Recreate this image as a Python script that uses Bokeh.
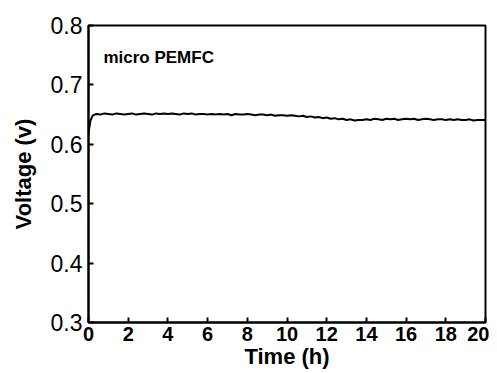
from bokeh.plotting import figure
from bokeh.models import Range1d, FixedTicker, Label
from bokeh.embed import file_html
from bokeh.resources import INLINE

hours = [0.0, 0.05, 0.1, 0.2, 0.3,
         0.4, 0.6, 0.8, 1.0, 1.2, 1.4, 1.6, 1.8, 2.0,
         2.2, 2.4, 2.6, 2.8, 3.0, 3.2, 3.4, 3.6, 3.8, 4.0,
         4.2, 4.4, 4.6, 4.8, 5.0, 5.2, 5.4, 5.6, 5.8, 6.0,
         6.2, 6.4, 6.6, 6.8, 7.0, 7.2, 7.4, 7.6, 7.8, 8.0,
         8.2, 8.4, 8.6, 8.8, 9.0, 9.2, 9.4, 9.6, 9.8, 10.0,
         10.2, 10.4, 10.6, 10.8, 11.0, 11.2, 11.4, 11.6, 11.8, 12.0,
         12.2, 12.4, 12.6, 12.8, 13.0, 13.2, 13.4, 13.6, 13.8, 14.0,
         14.2, 14.4, 14.6, 14.8, 15.0, 15.2, 15.4, 15.6, 15.8, 16.0,
         16.2, 16.4, 16.6, 16.8, 17.0, 17.2, 17.4, 17.6, 17.8, 18.0,
         18.2, 18.4, 18.6, 18.8, 19.0, 19.2, 19.4, 19.6, 19.8, 20.0]

voltage = [0.618, 0.630, 0.640, 0.648, 0.650,
           0.651, 0.650, 0.652, 0.651, 0.650, 0.652, 0.651, 0.650, 0.651,
           0.652, 0.650, 0.651, 0.652, 0.651, 0.650, 0.652, 0.651, 0.652, 0.651,
           0.652, 0.651, 0.650, 0.652, 0.651, 0.652, 0.650, 0.651, 0.651, 0.650,
           0.651, 0.650, 0.651, 0.650, 0.651, 0.649, 0.651, 0.650, 0.650, 0.651,
           0.650, 0.649, 0.650, 0.650, 0.649, 0.650, 0.648, 0.649, 0.649, 0.648,
           0.649, 0.648, 0.647, 0.648, 0.646, 0.647, 0.645, 0.646, 0.644, 0.645,
           0.643, 0.644, 0.642, 0.643, 0.641, 0.642, 0.640, 0.641, 0.641, 0.642,
           0.641, 0.643, 0.642, 0.641, 0.643, 0.642, 0.643, 0.641, 0.642, 0.643,
           0.642, 0.643, 0.641, 0.642, 0.643, 0.642, 0.641, 0.642, 0.642, 0.641,
           0.642, 0.641, 0.642, 0.641, 0.641, 0.642, 0.640, 0.641, 0.641, 0.641]

x_ticks = [0, 2, 4, 6, 8, 10, 12, 14, 16, 18, 20]
y_ticks = [0.3, 0.4, 0.5, 0.6, 0.7, 0.8]
annotation = "micro PEMFC"
x_title = "Time (h)"
y_title = "Voltage (v)"

FONT = "Liberation Sans"

p = figure(width=489, height=373, output_backend="svg", toolbar_location=None,
           x_range=Range1d(0, 20), y_range=Range1d(0.3, 0.8),
           min_border_left=88, min_border_right=4, min_border_top=25, min_border_bottom=51)

p.line(hours, voltage, line_color="black", line_width=2)

p.xgrid.visible = False
p.ygrid.visible = False
p.outline_line_color = "black"
p.outline_line_width = 2

for ax in (p.xaxis[0], p.yaxis[0]):
    ax.axis_line_color = "black"
    ax.axis_line_width = 2
    ax.major_tick_line_color = "black"
    ax.major_tick_line_width = 2
    ax.major_tick_in = 5
    ax.major_tick_out = 0
    ax.minor_tick_line_color = None
    ax.major_label_text_font = FONT
    ax.major_label_text_color = "black"
    ax.axis_label_text_font = FONT
    ax.axis_label_text_font_style = "bold"
    ax.axis_label_text_color = "black"

p.xaxis.ticker = FixedTicker(ticks=x_ticks)
p.yaxis.ticker = FixedTicker(ticks=y_ticks)
p.xaxis.major_label_text_font_size = "20px"
p.xaxis.major_label_text_font_style = "bold"
p.xaxis.major_label_standoff = 4
p.xaxis.axis_label = x_title
p.xaxis.axis_label_text_font_size = "22px"
p.xaxis.axis_label_standoff = 0

p.yaxis.major_label_text_font_size = "23px"
p.yaxis.major_label_text_font_style = "normal"
p.yaxis.major_label_standoff = 6
p.yaxis.axis_label = y_title
p.yaxis.axis_label_text_font_size = "22px"
p.yaxis.axis_label_standoff = 12

p.add_layout(Label(x=0.75, y=0.746, text=annotation, text_font=FONT,
                   text_font_style="bold", text_font_size="17px",
                   text_color="black", text_baseline="alphabetic"))

open("out.html", "w").write(file_html(p, INLINE))
